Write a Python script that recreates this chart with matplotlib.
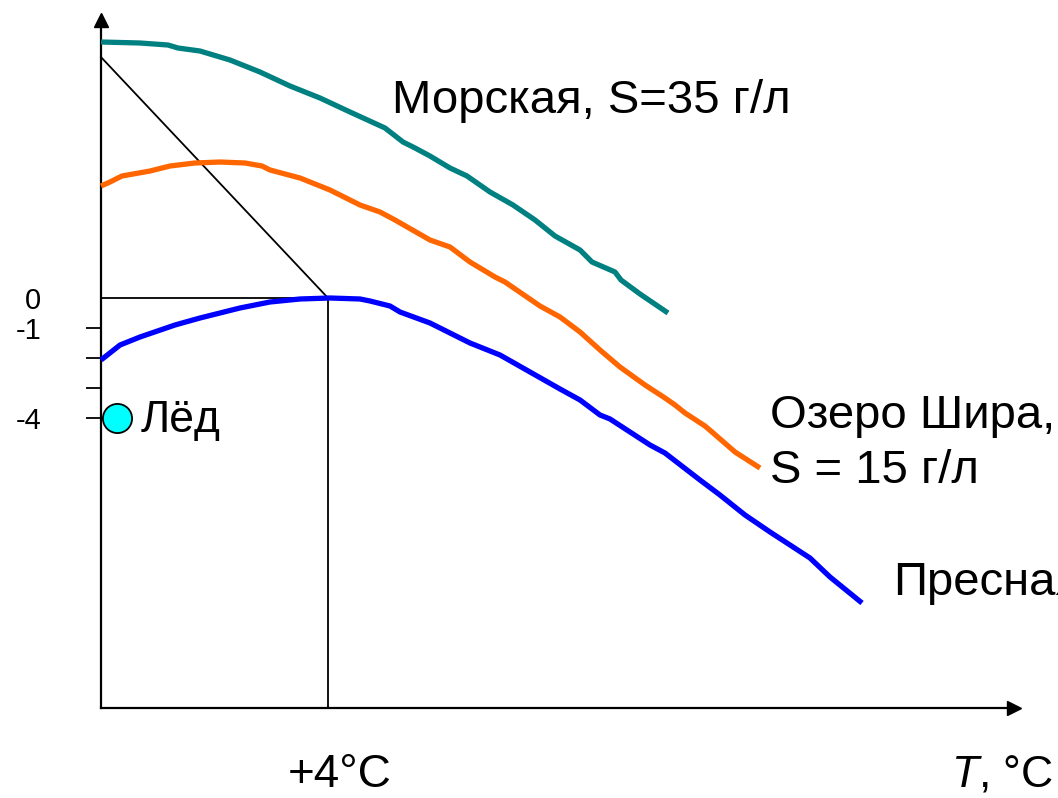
import matplotlib
matplotlib.use("Agg")
import matplotlib.pyplot as plt

plt.rcParams['font.family'] = ['Liberation Sans', 'DejaVu Sans']
plt.rcParams['mathtext.fontset'] = 'custom'
plt.rcParams['mathtext.rm'] = 'Liberation Sans'
plt.rcParams['mathtext.it'] = 'Liberation Sans:italic'

# ---- data (T in °C, y in relative density units; 0 = max of fresh water) ----
sea_T = [0.000, 0.687, 1.181, 1.357, 1.744, 2.273, 2.802, 3.330, 3.859, 4.388,
         5.004, 5.322, 5.533, 5.797, 6.150, 6.449, 6.855, 7.260, 7.648, 8.000,
         8.441, 8.652, 9.057, 9.163, 9.498, 9.991]
sea_y = [8.533, 8.500, 8.433, 8.333, 8.233, 7.933, 7.533, 7.067, 6.667, 6.200,
         5.667, 5.200, 5.000, 4.733, 4.333, 4.067, 3.533, 3.100, 2.600, 2.067,
         1.600, 1.200, 0.867, 0.600, 0.133, -0.500]

shira_T = [0.000, 0.159, 0.370, 0.864, 1.216, 1.656, 2.097, 2.537, 2.837, 2.978,
           3.507, 4.035, 4.564, 4.916, 5.181, 5.797, 6.150, 6.502, 6.943, 7.119,
           7.736, 8.088, 8.441, 8.793, 9.145, 9.586, 9.938, 10.115, 10.291, 10.643,
           10.767, 11.172, 11.612]
shira_y = [3.733, 3.867, 4.067, 4.233, 4.400, 4.500, 4.533, 4.500, 4.400, 4.267,
           4.000, 3.600, 3.100, 2.867, 2.600, 1.933, 1.700, 1.200, 0.700, 0.533,
           -0.267, -0.633, -1.133, -1.733, -2.300, -2.900, -3.333, -3.567, -3.833, -4.267,
           -4.467, -5.133, -5.667]

fresh_T = [0.000, 0.335, 0.687, 1.304, 1.744, 2.449, 2.978, 3.507, 4.035, 4.564,
           4.740, 5.093, 5.269, 5.797, 6.502, 7.031, 7.560, 8.088, 8.441, 8.793,
           8.969, 9.674, 9.938, 10.555, 10.907, 11.348, 11.789, 12.141, 12.493, 12.846,
           13.410]
fresh_y = [-2.067, -1.567, -1.300, -0.900, -0.667, -0.333, -0.133, -0.033, 0.000, -0.033,
           -0.100, -0.267, -0.467, -0.833, -1.500, -1.900, -2.467, -3.033, -3.400, -3.900,
           -4.033, -4.900, -5.167, -6.067, -6.567, -7.233, -7.800, -8.233, -8.667, -9.300,
           -10.167]

ice_T = [0.28]
ice_y = [-4.0]

ytick_vals = [0, -1, -2, -3, -4]
ytick_labels = ['0', '-1', '', '', '-4']

# helper construction lines (max-density point of fresh water at +4 °C)
t_max = 4.0
diag_start_y = 8.03
y_bottom = -13.67
y_top = 9.43
x_right = 16.19

# ---- figure ----
fig = plt.figure(figsize=(10.58, 7.98), dpi=100)
ax = fig.add_axes([0, 0, 1, 1])
ax.set_xlim(-101 / 56.75, 957 / 56.75)
ax.set_ylim(-500 / 30, 298 / 30)

for s in ['top', 'right']:
    ax.spines[s].set_visible(False)
ax.spines['left'].set_position(('data', 0))
ax.spines['bottom'].set_position(('data', y_bottom))
ax.spines['left'].set_bounds(y_bottom, y_top - 0.2)
ax.spines['bottom'].set_bounds(0, x_right - 0.1)
ax.spines['left'].set_linewidth(1.6)
ax.spines['bottom'].set_linewidth(1.6)

# arrow heads
ax.plot([0], [y_top - 0.15], marker='^', color='black', markersize=10,
        clip_on=False, zorder=5)
ax.plot([x_right - 0.1], [y_bottom], marker='>', color='black', markersize=10,
        clip_on=False, zorder=5)

ax.set_xticks([])
ax.set_yticks(ytick_vals)
ax.set_yticklabels(ytick_labels, fontsize=21)
ax.tick_params(axis='y', direction='out', length=11, width=1.3, pad=32)
ax.yaxis.get_major_ticks()[0].tick1line.set_visible(False)

# construction lines
ax.plot([0, t_max], [diag_start_y, 0], color='black', lw=1.3, zorder=2)
ax.plot([0, t_max], [0, 0], color='black', lw=1.3, zorder=2)
ax.plot([t_max, t_max], [0, y_bottom], color='black', lw=1.3, zorder=2)

# curves
ax.plot(sea_T, sea_y, color='#008080', lw=3.8, zorder=3, solid_capstyle='butt')
ax.plot(shira_T, shira_y, color='#FF6600', lw=3.8, zorder=3, solid_capstyle='butt')
ax.plot(fresh_T, fresh_y, color='#0000FF', lw=3.8, zorder=3, solid_capstyle='butt')

# ice
ax.plot(ice_T, ice_y, 'o', markersize=21, markerfacecolor='#00FFFF',
        markeredgecolor='black', markeredgewidth=1.3, zorder=4, clip_on=False)

# labels
fs = 34
ax.text(5.13, 6.17, 'Морская, S=35 г/л', fontsize=fs, va='baseline', ha='left')
ax.text(11.79, -4.33, 'Озеро Шира,', fontsize=fs, va='baseline', ha='left')
ax.text(11.79, -6.17, 'S = 15 г/л', fontsize=fs, va='baseline', ha='left')
ax.text(13.96, -9.9, 'Пресная', fontsize=fs, va='baseline', ha='left')
ax.text(0.70, -4.47, 'Лёд', fontsize=32, va='baseline', ha='left')
ax.text(4.21, -16.3, '+4°C', fontsize=33, va='baseline', ha='center')
ax.text(14.97, -16.3, r'$T$, °C', fontsize=32, va='baseline', ha='left')

fig.savefig('out.png', dpi=100)
